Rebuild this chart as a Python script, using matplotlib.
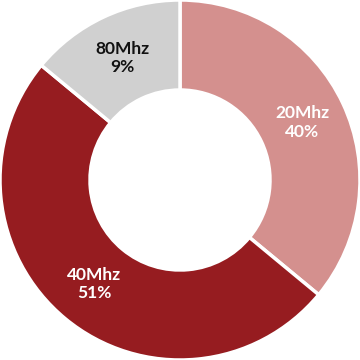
import matplotlib
matplotlib.use("Agg")
import matplotlib.pyplot as plt
import numpy as np

# slice sizes as drawn (degrees of the ring), labels as printed on the chart
names = ["20Mhz", "40Mhz", "80Mhz"]
sizes = [36, 50, 14]
pct_labels = ["40%", "51%", "9%"]
colors = ["#D4908E", "#961C20", "#D0D0D0"]
text_colors = ["white", "white", "#111111"]

fig = plt.figure(figsize=(3.6, 3.6), dpi=100)
ax = fig.add_axes([0, 0, 1, 1])

wedges, _ = ax.pie(sizes, colors=colors, startangle=90, counterclock=False,
                   radius=1.0,
                   wedgeprops=dict(width=0.5, edgecolor="white", linewidth=2.5))

for w, n, p, tc in zip(wedges, names, pct_labels, text_colors):
    mid = np.deg2rad((w.theta1 + w.theta2) / 2)
    r = 0.75
    ax.text(r * np.cos(mid), r * np.sin(mid), n + "\n" + p, ha="center", va="center",
            color=tc, fontsize=12.5, fontweight="bold", family=["Lato", "DejaVu Sans"],
            linespacing=1.2)

ax.set_xlim(-1, 1)
ax.set_ylim(-1, 1)
ax.set_aspect("equal")
ax.axis("off")
plt.savefig("out.png", dpi=100)
